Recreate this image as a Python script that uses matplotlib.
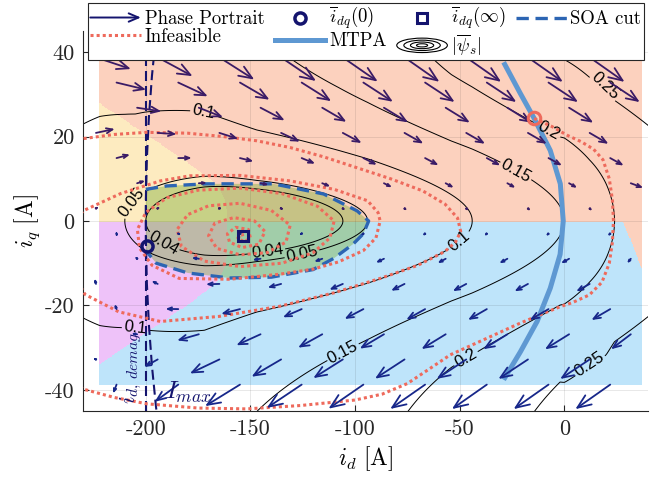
import numpy as np
import matplotlib
matplotlib.use("Agg")
import matplotlib.pyplot as plt
from matplotlib.colors import to_rgb
from matplotlib.patches import Circle, Ellipse, FancyArrowPatch, Polygon
from matplotlib.legend_handler import HandlerBase
from matplotlib.lines import Line2D

plt.rcParams["font.family"] = "serif"
plt.rcParams["font.serif"] = ["cmr10"]
plt.rcParams["mathtext.fontset"] = "cm"
plt.rcParams["axes.unicode_minus"] = False

PSI_D_ID = [-245, -230, -210, -200, -153, -94, -44, 0, 24, 45]
PSI_D_VAL = [-0.080, -0.068, -0.050, -0.040, 0.0, 0.050, 0.100, 0.150, 0.200, 0.222]
PSI_Q_ID = [-245, -222, -205, -172, -147, -108, -54, -2, 12, 20, 45]
PSI_Q_AMP = [0.112, 0.121, 0.134, 0.146, 0.168, 0.190, 0.223, 0.241, 0.225, 0.210, 0.200]
IQ_SAT = 31.5
PSI_LEVELS = [0.04, 0.05, 0.1, 0.15, 0.2, 0.25]
LABEL_POS = [(-172, 27), (-50, -4.8), (-205, -25.5), (-23, 12), (-108, -29),
             (-7, 22), (-48, -31.7), (19.6, 32), (12, -34), (-207.7, 4.8),
             (-125, -8.6), (-193, -6.4), (-141.6, -7.9)]

# ---- phase portrait model (arrow field) ----
ID_COLS = -223.8 + 9.83 * np.arange(27)
IQ_ROWS = np.linspace(38.75, -38.75, 14)
REGION_ID = (-222.5, 36.8)
REGION_IQ = (-38.8, 38.8)
D_GAIN = 0.43
Q_GAIN = 0.022
Q_FLOOR = 0.5
ID_KNEE = -161.0
KNEE_SLOPE = 3.0

# ---- curves ----
MTPA_ID = [-29, -21, -14.4, -6.7, -1.9, -0.5, -2, -6.7, -13, -21, -29]
MTPA_IQ = [37.6, 30.2, 24.3, 16.7, 8.8, 0, -7.9, -15.9, -23.8, -31, -37.6]

SOA_ID = [-200, -190, -171, -139, -115, -99, -93.5, -96, -101, -110, -120, -140,
          -160, -180, -195, -200]
SOA_IQ = [7.5, 8.3, 8.8, 8.8, 6.4, 2.4, 0, -3, -5.5, -8.8, -11.5, -13.3,
          -13.5, -12.3, -10, -7]

TRAJ_ID = [-14.4, -6, 1.4, 8, 14, 18.5, 21.5, 23, 23.5, 23, 21.5, 18, 12, 4, -2, -12,
           -22.5, -38, -54.5, -65, -75, -87, -100, -126, -151.7, -175, -199.5, -215,
           -230, -242, -250, -250, -243, -230,
           -215, -199.5, -180, -163, -147, -131, -115, -99, -83, -67.5, -57, -51,
           -49.5, -52, -57, -70, -88, -110, -136, -165, -193, -213, -229, -238, -238,
           -230,
           -212, -193, -179, -155, -131, -110, -94, -89, -88, -90, -96, -108, -120,
           -136, -160, -184, -197, -203, -204, -200, -190, -175, -155, -135, -118,
           -110, -112, -120, -135, -155, -172, -183, -185, -180, -170, -155, -140,
           -131, -133, -142, -155, -166, -170, -167, -158, -148, -143, -146, -154,
           -160, -161, -157, -151, -150, -153, -156, -154, -153.6]
TRAJ_IQ = [24.3, 22.4, 20.3, 18.8, 17, 14.5, 10, 5, 0, -5, -10, -14.5, -17.5, -19.3,
           -20.3, -22.3, -24.5, -28, -31.7, -35.2, -38.5, -41, -42.4, -43.7, -44.5,
           -44.3, -43.3, -41.8, -39.8, -34, -20, -2, 12, 19.5,
           20.5, 21, 20.8, 20, 19, 17.4, 15.2, 12.6, 10, 7.1, 4, 0.7, -2.5, -5, -7.2,
           -10.5, -13.6, -17, -20.2, -22.6, -23.8, -21.5, -17.4, -10, -3, 2.4,
           6.5, 9.5, 10.7, 10.8, 9.5, 7.5, 4.8, 2, 0, -4, -7, -9.7, -11.4, -12.6,
           -13.8, -13.6, -10.5, -6.4, -2, 2, 5.5, 7.3, 7.8, 6.5, 3.5, 0, -4, -7.5,
           -10, -10.8, -9.5, -6, -2, 1.5, 3.6, 4.2, 2.5, -1, -5, -7.5, -8, -6.5,
           -3.5, -0.5, 0.8, 0, -2.5, -5.5, -6.3, -5, -3, -1.5, -2, -4, -5, -4, -3,
           -3.6]

I_START = (-199.5, -6.0)
I_END = (-153.6, -3.6)
I_MAX = 200.0
ID_DEMAG = -200.0

ORANGE, BLUE, YELLOW, PURPLE = "#FCD1BE", "#BEE4FA", "#FDEBC0", "#EEC2F9"
SOA_FILL = (0.466, 0.674, 0.188)
ARROW_PURPLE, ARROW_NAVY = "#3A1B66", "#17278A"
NAVY = "#14146E"
RED = "#EE6A5C"
MTPA_BLUE = "#5E98D2"
SOA_BLUE = "#2C65B3"


def flux_mag(i_d, i_q):
    psi_d = np.interp(i_d, PSI_D_ID, PSI_D_VAL)
    amp = np.interp(i_d, PSI_Q_ID, PSI_Q_AMP)
    psi_q = amp * np.tanh(i_q / IQ_SAT)
    return np.hypot(psi_d, psi_q)


def id_knee(i_q):
    x = np.abs(i_q + 3) - 10.5
    return ID_KNEE - KNEE_SLOPE * 2.0 * np.log1p(np.exp(x / 2.0))


def phase_field(i_d, i_q):
    u = D_GAIN * i_q
    slow = np.clip((-170 - i_d) / 45, 0, 0.9)
    u = np.where(i_q < 0, u * (1 - slow), u)
    u = u + 0.55 * np.maximum(i_d - 28, 0)
    dv = i_d - id_knee(i_q)
    v = -(Q_GAIN * np.abs(i_q) ** 1.5 + Q_FLOOR) * np.tanh(dv / 60)
    return u, v


class ArrowProxy:
    pass


class ContourProxy:
    pass


class ArrowHandler(HandlerBase):
    def create_artists(self, legend, orig, xd, yd, w, h, fs, trans):
        y = -yd + h / 2
        a = FancyArrowPatch((-xd, y), (-xd + w, y), arrowstyle="->,head_length=7,head_width=3",
                            mutation_scale=1, lw=1.4, color=NAVY, transform=trans,
                            shrinkA=0, shrinkB=0)
        return [a]


class ContourHandler(HandlerBase):
    def create_artists(self, legend, orig, xd, yd, w, h, fs, trans):
        cx, cy = -xd + w / 2, -yd + h / 2
        arts = []
        for s in (1.0, 0.72, 0.46, 0.22):
            arts.append(Ellipse((cx, cy), w * s, h * 1.1 * s, fill=False, ec="black",
                                lw=0.8, transform=trans))
        return arts


fig = plt.figure(figsize=(6.65, 4.8), dpi=100)
ax = fig.add_axes([83 / 665, 1 - 411 / 480, 565 / 665, 380 / 480])

# background regions: sign of the state derivatives
ids_f = np.linspace(REGION_ID[0], REGION_ID[1], 520)
iqs_f = np.linspace(REGION_IQ[0], REGION_IQ[1], 311)
IDf, IQf = np.meshgrid(ids_f, iqs_f)
uf, vf = phase_field(IDf, IQf)
cat = (uf < 0).astype(int) + 2 * (vf > 0).astype(int)
palette = np.array([to_rgb(c) for c in (ORANGE, BLUE, YELLOW, PURPLE)])
ax.imshow(palette[cat], extent=[*REGION_ID, *REGION_IQ], origin="lower",
          aspect="auto", interpolation="nearest", zorder=0)

# SOA region
ax.add_patch(Polygon(np.column_stack([SOA_ID, SOA_IQ]), closed=True, fc=SOA_FILL,
                     alpha=0.4, ec="none", zorder=0.5))

ax.set_xlim(-230, 40)
ax.set_ylim(-45, 45)

# |psi_s| contours
gx = np.linspace(-235, 45, 400)
gy = np.linspace(-50, 50, 300)
GX, GY = np.meshgrid(gx, gy)
cs = ax.contour(GX, GY, flux_mag(GX, GY), levels=PSI_LEVELS, colors="black",
                linewidths=0.7, zorder=2)
lbls = ax.clabel(cs, fmt="%g", fontsize=12, manual=LABEL_POS, inline=True, inline_spacing=3)
for t in lbls:
    t.set_fontfamily("Liberation Sans")

# MTPA
ax.plot(MTPA_ID, MTPA_IQ, color=MTPA_BLUE, lw=3.6, zorder=2.5, solid_capstyle="butt")

# limits
ax.axvline(ID_DEMAG, color=NAVY, lw=1.5, ls=(0, (4.8, 2.4)), zorder=3)
ax.add_patch(Circle((0, 0), I_MAX, fill=False, ec=NAVY, lw=1.5, ls=(0, (4.8, 2.4)), zorder=3))

# SOA cut and infeasible trajectory
ax.plot(SOA_ID, SOA_IQ, color=SOA_BLUE, lw=2.4, ls=(0, (3.7, 2)), zorder=3.5)
ax.plot(TRAJ_ID, TRAJ_IQ, color=RED, lw=2.2, ls=(0, (1, 1)), zorder=4,
        dash_capstyle="butt")

# phase portrait arrows
fig.canvas.draw()
to_px = ax.transData.transform
for j, y in enumerate(IQ_ROWS):
    for i, x in enumerate(ID_COLS):
        if (i - j) % 3:
            continue
        u, v = phase_field(np.array(x), np.array(y))
        p0, p1 = to_px((x, y)), to_px((x + u, y + v))
        length = np.hypot(*(p1 - p0)) * 72 / fig.dpi
        if length < 0.5:
            continue
        col = ARROW_PURPLE if u > 0 else ARROW_NAVY
        ax.annotate("", xy=(x + u, y + v), xytext=(x, y),
                    arrowprops=dict(arrowstyle=f"->,head_length={0.32 * length:.2f},"
                                               f"head_width={0.13 * length:.2f}",
                                    color=col, lw=1.3, shrinkA=0, shrinkB=0,
                                    mutation_scale=1),
                    zorder=5)

# markers
ax.plot(*TRAJ_ID[:1], *TRAJ_IQ[:1], "o", ms=9, mfc="none", mec=RED, mew=2.2, zorder=6)
ax.plot(*I_START, "o", ms=8, mfc="none", mec=NAVY, mew=2.5, zorder=6)
ax.plot(*I_END, "s", ms=7, mfc="none", mec=NAVY, mew=2.2, zorder=6)

ax.text(-207, -34.8, r"$i_{d,\,demag}$", rotation=90, color=NAVY, fontsize=16,
        ha="center", va="center", zorder=7)
ax.text(-191, -40.5, r"$I_{max}$", color=NAVY, fontsize=18, ha="left", va="center",
        zorder=7)

# axes styling
ax.set_xticks([-200, -150, -100, -50, 0])
ax.set_yticks([-40, -20, 0, 20, 40])
ax.tick_params(direction="in", length=4, labelsize=16, pad=6, colors="#262626")
for side in ("top", "right"):
    ax.spines[side].set_visible(False)
for side in ("left", "bottom"):
    ax.spines[side].set_color("#262626")
ax.grid(True, color="#262626", alpha=0.12, lw=0.6)
ax.set_xlabel(r"$i_d\ [\mathrm{A}]$", fontsize=17, labelpad=4)
ax.set_ylabel(r"$i_q\ [\mathrm{A}]$", fontsize=17, labelpad=2)

handles = [ArrowProxy(),
           Line2D([], [], color=RED, lw=2.2, ls=(0, (1, 1))),
           Line2D([], [], ls="none", marker="o", ms=8, mfc="none", mec=NAVY, mew=2.5),
           Line2D([], [], color=MTPA_BLUE, lw=3.6),
           Line2D([], [], ls="none", marker="s", ms=7, mfc="none", mec=NAVY, mew=2.2),
           ContourProxy(),
           Line2D([], [], color=SOA_BLUE, lw=2.4, ls=(0, (3.7, 2)))]
labels = ["Phase Portrait", "Infeasible", r"$\overline{i}_{dq}(0)$", "MTPA",
          r"$\overline{i}_{dq}(\infty)$", r"$|\overline{\psi}_s|$", "SOA cut"]
leg = fig.legend(handles, labels, ncol=4, loc="upper left",
                 bbox_to_anchor=(88 / 665, 1 - 3 / 480), borderaxespad=0,
                 handler_map={ArrowProxy: ArrowHandler(), ContourProxy: ContourHandler()},
                 prop={"size": 13.5}, handlelength=2.7, handletextpad=0.2,
                 columnspacing=0.55, labelspacing=0.0, borderpad=0.12,
                 fancybox=False, framealpha=1, edgecolor="#262626")
leg.get_frame().set_linewidth(0.8)

fig.savefig("out.png", dpi=100)
